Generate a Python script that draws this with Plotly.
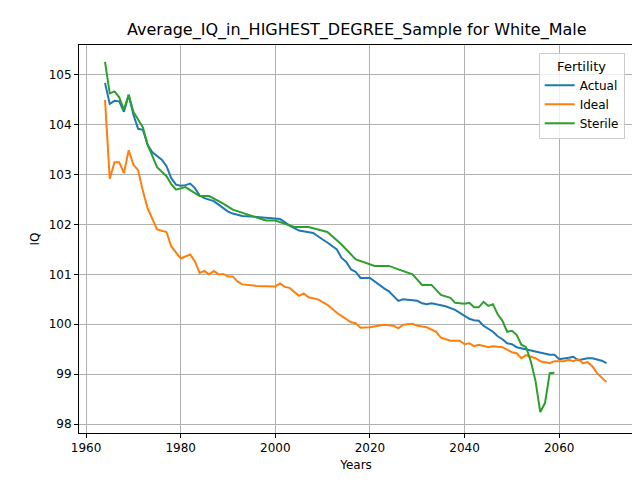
import plotly.graph_objects as go

# values
actual_years = [1964, 1965, 1966, 1967, 1968, 1969, 1970, 1971, 1972, 1973, 1974, 1975, 1976, 1977, 1978,
                1979, 1980, 1981, 1982, 1983, 1984, 1985, 1986, 1987, 1988, 1989, 1990, 1991, 1992, 1993,
                1995, 1997, 2000, 2001, 2002, 2003, 2005, 2006, 2008, 2010, 2011, 2013, 2014, 2015, 2016,
                2017, 2018, 2020, 2022, 2023, 2024, 2025, 2026, 2027, 2030, 2031, 2032, 2033, 2036, 2038,
                2040, 2041, 2042, 2043, 2044, 2046, 2047, 2048, 2049, 2050, 2051, 2053, 2055, 2057, 2058,
                2059, 2060, 2062, 2063, 2064, 2066, 2067, 2069, 2070]
actual = [104.84, 104.42, 104.48, 104.47, 104.26, 104.6, 104.2, 103.92, 103.9, 103.6, 103.45, 103.38, 103.3,
          103.17, 102.93, 102.8, 102.78, 102.79, 102.82, 102.73, 102.58, 102.53, 102.5, 102.47, 102.4, 102.33,
          102.26, 102.22, 102.19, 102.17, 102.16, 102.14, 102.11, 102.11, 102.05, 101.98, 101.88, 101.86,
          101.83, 101.7, 101.64, 101.5, 101.33, 101.25, 101.1, 101.05, 100.93, 100.93, 100.78, 100.72, 100.66,
          100.56, 100.47, 100.5, 100.47, 100.42, 100.4, 100.42, 100.36, 100.29, 100.18, 100.11, 100.08, 100.07,
          99.97, 99.85, 99.76, 99.7, 99.62, 99.6, 99.54, 99.5, 99.46, 99.42, 99.39, 99.39, 99.3, 99.33, 99.35,
          99.28, 99.32, 99.32, 99.27, 99.22]

ideal_years = [1964, 1965, 1966, 1967, 1968, 1969, 1970, 1971, 1972, 1973, 1975, 1977, 1978, 1980, 1982,
               1983, 1984, 1985, 1986, 1987, 1988, 1989, 1990, 1991, 1992, 1993, 1996, 1998, 2000, 2001,
               2002, 2003, 2005, 2006, 2007, 2009, 2011, 2013, 2016, 2017, 2018, 2020, 2023, 2025, 2026,
               2027, 2029, 2030, 2032, 2034, 2035, 2037, 2039, 2040, 2041, 2042, 2043, 2045, 2046, 2048,
               2050, 2051, 2052, 2053, 2055, 2056, 2058, 2059, 2061, 2062, 2063, 2064, 2065, 2066, 2067,
               2068, 2070]
ideal = [104.5, 102.92, 103.25, 103.25, 103.03, 103.49, 103.2, 103.09, 102.67, 102.33, 101.9, 101.85, 101.56,
         101.32, 101.4, 101.26, 101.03, 101.07, 101.0, 101.07, 101.0, 101.01, 100.96, 100.96, 100.86, 100.8,
         100.77, 100.76, 100.76, 100.82, 100.75, 100.73, 100.57, 100.62, 100.54, 100.5, 100.39, 100.23, 100.04,
         100.02, 99.93, 99.94, 99.99, 99.97, 99.92, 99.99, 100.01, 99.97, 99.94, 99.85, 99.73, 99.67, 99.67,
         99.6, 99.62, 99.56, 99.59, 99.54, 99.56, 99.54, 99.44, 99.42, 99.32, 99.38, 99.32, 99.26, 99.22,
         99.26, 99.26, 99.29, 99.26, 99.3, 99.22, 99.24, 99.16, 99.02, 98.84]

sterile_years = [1964, 1965, 1966, 1967, 1968, 1969, 1970, 1971, 1972, 1973, 1975, 1977, 1978, 1979, 1981,
                 1982, 1984, 1986, 1988, 1989, 1991, 1994, 1996, 1998, 2000, 2002, 2004, 2007, 2010, 2011,
                 2014, 2017, 2021, 2024, 2026, 2029, 2031, 2033, 2035, 2037, 2038, 2040, 2041, 2042, 2043,
                 2044, 2045, 2046, 2047, 2048, 2049, 2050, 2051, 2052, 2053, 2054, 2055, 2056, 2057, 2058,
                 2059]
sterile = [105.26, 104.63, 104.67, 104.55, 104.3, 104.6, 104.26, 104.1, 103.95, 103.6, 103.15, 102.97, 102.81,
           102.7, 102.75, 102.69, 102.57, 102.57, 102.47, 102.42, 102.3, 102.2, 102.14, 102.08, 102.08, 102.01,
           101.95, 101.95, 101.87, 101.85, 101.6, 101.3, 101.17, 101.17, 101.1, 101.0, 100.79, 100.79, 100.59,
           100.53, 100.43, 100.41, 100.43, 100.34, 100.34, 100.45, 100.37, 100.4, 100.2, 100.07, 99.85, 99.87,
           99.79, 99.59, 99.54, 99.26, 98.86, 98.24, 98.42, 99.02, 99.03]

fig = go.Figure()
fig.add_trace(go.Scatter(x=actual_years, y=actual, name='Actual', mode='lines',
                         line=dict(color='#1f77b4', width=2)))
fig.add_trace(go.Scatter(x=ideal_years, y=ideal, name='Ideal', mode='lines',
                         line=dict(color='#ff7f0e', width=2)))
fig.add_trace(go.Scatter(x=sterile_years, y=sterile, name='Sterile', mode='lines',
                         line=dict(color='#2ca02c', width=2)))

axis = dict(showline=True, linecolor='black', mirror=True, showgrid=True, gridcolor='#b0b0b0',
            ticks='outside', ticklen=4, tickcolor='black', zeroline=False, automargin=False,
            tickfont=dict(size=12, color='black'))
fig.update_xaxes(range=[1958.5, 2075.6], dtick=20,
                 title=dict(text='Years', font=dict(size=12), standoff=6), **axis)
fig.update_yaxes(range=[97.82, 105.6], dtick=1,
                 title=dict(text='IQ', font=dict(size=12), standoff=6), **axis)

fig.update_layout(
    width=640, height=480,
    title=dict(text='Average_IQ_in_HIGHEST_DEGREE_Sample for White_Male', x=0.545, xanchor='center',
               yref='container', y=0.955, yanchor='middle', automargin=False,
               font=dict(size=16, color='black')),
    font=dict(family='DejaVu Sans', color='black'),
    plot_bgcolor='white', paper_bgcolor='white',
    margin=dict(l=71, r=15, t=37, b=55, autoexpand=False),
    legend=dict(title=dict(text='Fertility', side='top center', font=dict(size=13)),
                x=0.985, y=0.98, xanchor='right',
                yanchor='top', bordercolor='#cccccc', borderwidth=1, bgcolor='rgba(255,255,255,0.8)',
                font=dict(size=12)),
)

fig.write_html('out.html')
